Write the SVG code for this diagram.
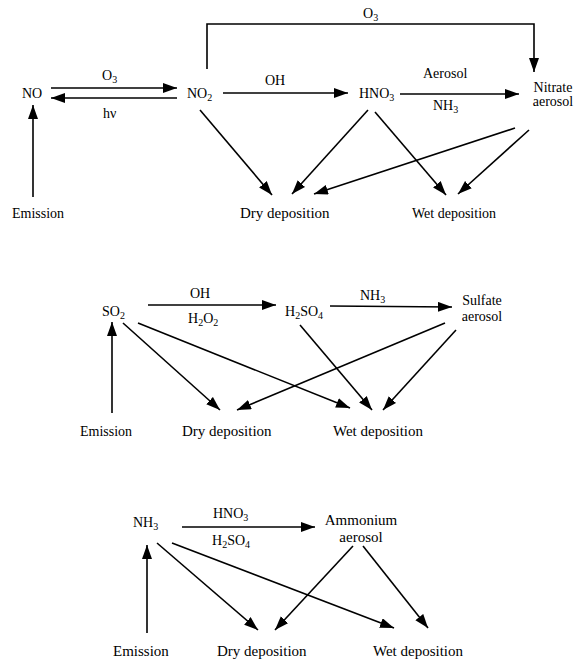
<svg xmlns="http://www.w3.org/2000/svg" width="575" height="664" viewBox="0 0 575 664">
<style>
text{font-family:"Liberation Serif","Times New Roman",serif;font-size:14px;fill:#000}
.s{font-size:10px}
.b{font-size:15px}
.c line,.c path{stroke:#000;stroke-width:1.6;fill:none}
</style>
<defs>
<marker id="a" markerUnits="userSpaceOnUse" markerWidth="15" markerHeight="11" refX="14" refY="5" orient="auto">
<path d="M0,0 L14,5 L0,10 z" fill="#000"/>
</marker>
</defs>
<rect width="575" height="664" fill="#fff"/>
<g class="c" id="connectors">
<!-- section 1 -->
<line x1="33" y1="197" x2="33" y2="105" marker-end="url(#a)"/>
<line x1="51" y1="88" x2="177" y2="88" marker-end="url(#a)"/>
<line x1="177" y1="98" x2="51" y2="98" marker-end="url(#a)"/>
<path d="M207,69 V24 H534 V72" marker-end="url(#a)"/>
<line x1="223" y1="93" x2="348" y2="93" marker-end="url(#a)"/>
<line x1="400" y1="94" x2="519" y2="94" marker-end="url(#a)"/>
<line x1="200" y1="110" x2="272" y2="195" marker-end="url(#a)"/>
<line x1="368" y1="110" x2="292" y2="194" marker-end="url(#a)"/>
<line x1="515" y1="128" x2="314" y2="194" marker-end="url(#a)"/>
<line x1="375" y1="112" x2="446" y2="195" marker-end="url(#a)"/>
<line x1="529" y1="130" x2="458" y2="194" marker-end="url(#a)"/>
<!-- section 2 -->
<line x1="112" y1="413" x2="112" y2="322" marker-end="url(#a)"/>
<line x1="148" y1="305" x2="276" y2="305" marker-end="url(#a)"/>
<line x1="330" y1="306" x2="452" y2="307" marker-end="url(#a)"/>
<line x1="123" y1="323" x2="220" y2="410" marker-end="url(#a)"/>
<line x1="138" y1="323" x2="350" y2="408" marker-end="url(#a)"/>
<line x1="300" y1="325" x2="372" y2="410" marker-end="url(#a)"/>
<line x1="445" y1="323" x2="237" y2="410" marker-end="url(#a)"/>
<line x1="456" y1="330" x2="383" y2="410" marker-end="url(#a)"/>
<!-- section 3 -->
<line x1="147" y1="633" x2="147" y2="545" marker-end="url(#a)"/>
<line x1="182" y1="527" x2="315" y2="527" marker-end="url(#a)"/>
<line x1="157" y1="543" x2="258" y2="630" marker-end="url(#a)"/>
<line x1="172" y1="543" x2="394" y2="628" marker-end="url(#a)"/>
<line x1="353" y1="546" x2="275" y2="630" marker-end="url(#a)"/>
<line x1="363" y1="546" x2="428" y2="628" marker-end="url(#a)"/>
</g>
<!-- section 1 nodes -->
<g id="n-NO"><text x="22" y="98">NO</text></g>
<g id="n-NO2"><text x="187" y="98">NO<tspan class="s" dy="3">2</tspan></text></g>
<g id="n-HNO3"><text x="359" y="98">HNO<tspan class="s" dy="3">3</tspan></text></g>
<g id="n-nitrate"><text x="553" y="92" text-anchor="middle">Nitrate</text><text x="553" y="106" text-anchor="middle">aerosol</text></g>
<g id="n-emission1"><text x="12" y="218">Emission</text></g>
<g id="n-dry1"><text class="b" x="240" y="218">Dry deposition</text></g>
<g id="n-wet1"><text x="412" y="218">Wet deposition</text></g>
<g id="labels1">
<text x="102" y="80">O<tspan class="s" dy="3">3</tspan></text>
<text x="103" y="118">hν</text>
<text x="265" y="85">OH</text>
<text x="423" y="78">Aerosol</text>
<text x="433" y="110">NH<tspan class="s" dy="3">3</tspan></text>
<text x="363" y="18">O<tspan class="s" dy="2.5">3</tspan></text>
</g>
<!-- section 2 nodes -->
<g id="n-SO2"><text x="102" y="316">SO<tspan class="s" dy="3">2</tspan></text></g>
<g id="n-H2SO4"><text x="285" y="316">H<tspan class="s" dy="3">2</tspan><tspan dy="-3">SO</tspan><tspan class="s" dy="3">4</tspan></text></g>
<g id="n-sulfate"><text x="482" y="305" text-anchor="middle">Sulfate</text><text x="482" y="321" text-anchor="middle">aerosol</text></g>
<g id="n-emission2"><text x="80" y="436">Emission</text></g>
<g id="n-dry2"><text class="b" x="182" y="436">Dry deposition</text></g>
<g id="n-wet2"><text class="b" x="333" y="436">Wet deposition</text></g>
<g id="labels2">
<text x="190" y="298">OH</text>
<text x="188" y="323">H<tspan class="s" dy="3">2</tspan><tspan dy="-3">O</tspan><tspan class="s" dy="3">2</tspan></text>
<text x="360" y="300">NH<tspan class="s" dy="3">3</tspan></text>
</g>
<!-- section 3 nodes -->
<g id="n-NH3"><text x="133" y="527">NH<tspan class="s" dy="3">3</tspan></text></g>
<g id="n-ammonium"><text class="b" x="361" y="525" text-anchor="middle">Ammonium</text><text class="b" x="361" y="542" text-anchor="middle">aerosol</text></g>
<g id="n-emission3"><text class="b" x="113" y="656">Emission</text></g>
<g id="n-dry3"><text class="b" x="217" y="656">Dry deposition</text></g>
<g id="n-wet3"><text class="b" x="373" y="656">Wet deposition</text></g>
<g id="labels3">
<text x="213" y="518">HNO<tspan class="s" dy="3">3</tspan></text>
<text x="212" y="545">H<tspan class="s" dy="3">2</tspan><tspan dy="-3">SO</tspan><tspan class="s" dy="3">4</tspan></text>
</g>
</svg>
